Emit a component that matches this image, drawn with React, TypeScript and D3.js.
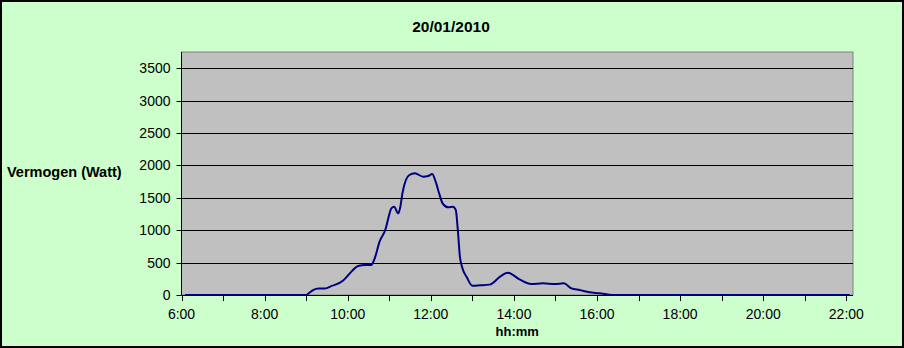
import React from "react";
import * as d3 from "d3";

const times = [
  "6:05", "9:00", "9:03", "9:10", "9:18", "9:27", "9:37", "9:53", "10:01", "10:15",
  "10:25", "10:34", "10:39", "10:46", "10:55", "10:58", "11:03", "11:07", "11:13", "11:16",
  "11:19", "11:24", "11:29", "11:37", "11:49", "11:56", "12:02", "12:07", "12:12", "12:17",
  "12:25", "12:32", "12:36", "12:39", "12:42", "12:45", "12:52", "13:00", "13:11", "13:25",
  "13:40", "13:51", "14:08", "14:25", "14:42", "14:59", "15:12", "15:23", "15:35", "15:49",
  "16:04", "16:14", "16:25", "22:05",
];
const watts = [
  0, 0, 20, 77, 100, 100, 140, 220, 309, 447,
  463, 463, 566, 823, 1029, 1157, 1338, 1363, 1260, 1363,
  1569, 1775, 1852, 1878, 1826, 1836, 1867, 1749, 1569, 1415,
  1353, 1363, 1312, 1003, 591, 437, 273, 144, 150, 160,
  283, 344, 242, 170, 180, 170, 180, 103, 77, 42,
  26, 10, 0, 0,
];
const yTicks = [0, 500, 1000, 1500, 2000, 2500, 3000, 3500];
const xMajor = [6, 8, 10, 12, 14, 16, 18, 20, 22];
const xMinor = [6, 7, 8, 9, 10, 11, 12, 13, 14, 15, 16, 17, 18, 19, 20, 21, 22];
const title = "20/01/2010";
const yTitle = "Vermogen (Watt)";
const xTitle = "hh:mm";

const toHours = (s: string) => {
  const [h, m] = s.split(":").map(Number);
  return h + m / 60;
};

export default function App() {
  const W = 904, H = 348;
  const L = 181.5, R = 853, T = 52, B = 295;
  const x = d3.scaleLinear().domain([6, 22.16]).range([L, R]);
  const y = d3.scaleLinear().domain([0, 3750]).range([B, T]);
  const pts = times.map((t, i) => [toHours(t), watts[i]] as [number, number]);
  const line = d3
    .line<[number, number]>()
    .x((d) => x(d[0]))
    .y((d) => y(d[1]))
    .curve(d3.curveMonotoneX);
  const font = "'Liberation Sans', Arial, sans-serif";
  const fmt = (h: number) => `${h}:00`;

  return (
    <svg
      width={W}
      height={H}
      style={{ position: "absolute", left: 0, top: 0, display: "block" }}
      fontFamily={font}
    >
      <rect x={1} y={1} width={W - 2} height={H - 2} fill="#CCFFCC" stroke="#000" strokeWidth={2} />
      <rect x={L} y={T} width={R - L} height={B - T} fill="#C0C0C0" stroke="#808080" strokeWidth={1} />
      {yTicks.filter((v) => v > 0).map((v) => (
        <line key={"g" + v} x1={L} x2={R} y1={Math.round(y(v)) + 0.5} y2={Math.round(y(v)) + 0.5} stroke="#000" strokeWidth={1} />
      ))}
      <line x1={L} x2={L} y1={T} y2={B} stroke="#000" strokeWidth={1} />
      <line x1={L} x2={R} y1={B + 0.5} y2={B + 0.5} stroke="#000" strokeWidth={1} />
      {yTicks.map((v) => (
        <g key={"y" + v}>
          <line x1={L - 5} x2={L} y1={Math.round(y(v)) + 0.5} y2={Math.round(y(v)) + 0.5} stroke="#000" />
          <text x={L - 11} y={y(v) + 5} textAnchor="end" fontSize={14} fill="#000">
            {v}
          </text>
        </g>
      ))}
      {xMinor.map((h) => (
        <line key={"m" + h} x1={Math.round(x(h)) + 0.5} x2={Math.round(x(h)) + 0.5} y1={B} y2={B + 6} stroke="#000" />
      ))}
      {xMajor.map((h) => (
        <text key={"x" + h} x={x(h)} y={319} textAnchor="middle" fontSize={14} fill="#000">
          {fmt(h)}
        </text>
      ))}
      <path d={line(pts) || ""} fill="none" stroke="#000080" strokeWidth={2} strokeLinejoin="round" />
      <text x={451} y={32} textAnchor="middle" fontSize={15.5} fontWeight="bold" fill="#000">
        {title}
      </text>
      <text x={7} y={177} fontSize={14.5} fontWeight="bold" fill="#000">
        {yTitle}
      </text>
      <text x={(L + R) / 2} y={335.5} textAnchor="middle" fontSize={13} fontWeight="bold" fill="#000">
        {xTitle}
      </text>
    </svg>
  );
}
